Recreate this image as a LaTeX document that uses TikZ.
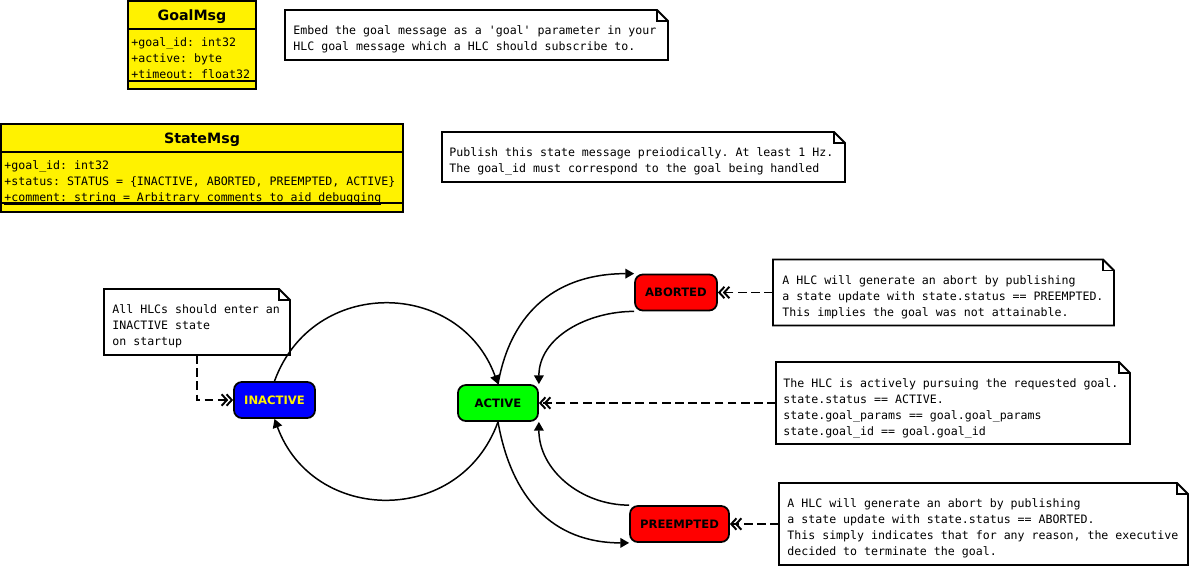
\documentclass[tikz,border=0pt]{standalone}
\usepackage{fontspec}
\setmainfont{DejaVu Sans}
\setmonofont{DejaVu Sans Mono}
\usetikzlibrary{arrows.meta, positioning}

\newcommand{\upx}{0.02cm}
\newcommand{\monotext}{\fontsize{6.6}{9.1}\selectfont\ttfamily}

\begin{document}
\begin{tikzpicture}[x=0.02cm, y=-0.02cm,
    classhead/.style={draw, fill=yellow, line width=1.1pt, outer sep=0pt, inner sep=0pt, text depth=0pt, font=\fontsize{8.1}{10}\selectfont\bfseries},
    classpart/.style={draw, fill=yellow, line width=1.1pt, outer sep=0pt, inner sep=0pt},
    monobox/.style={anchor=north west, inner sep=0pt, align=left, font=\monotext},
    notebox/.style={rectangle, anchor=north west, inner sep=0pt, outer sep=0pt},
    noteline/.style={line width=1.1pt, line join=miter},
    statebox/.style={draw, rounded corners=4.5pt, line width=1pt, minimum height=36*\upx, inner sep=0pt, font=\fontsize{6.6}{8}\selectfont\bfseries},
    trans/.style={line width=0.85pt, -{Triangle[length=5pt,width=5.5pt]}},
    dep/.style={line width=1.1pt, dash pattern=on 5pt off 2.5pt, -{Straight Barb[length=3pt,width=6.5pt,sep=-1.5pt]Straight Barb[length=3pt,width=6.5pt]}}]
    \useasboundingbox (0,0) rectangle (1192,569);

    % message classes
    \node[classhead, minimum width=128*\upx, minimum height=28*\upx] (goalhead) at (192,15) {GoalMsg};
    \node[classpart, minimum width=128*\upx, minimum height=52*\upx, below=0pt of goalhead] (goalattr) {};
    \node[classpart, minimum width=128*\upx, minimum height=8*\upx, below=0pt of goalattr] (goalfoot) {};
    \node[monobox] (goaltxt) at ([xshift=3*\upx, yshift=-8.4*\upx]goalattr.north west)
        {+goal\_id: int32\\+active: byte\\\underline{\smash{+timeout: float32}}};

    \node[classhead, minimum width=402*\upx, minimum height=28*\upx] (statehead) at (202,138) {StateMsg};
    \node[classpart, minimum width=402*\upx, minimum height=51*\upx, below=0pt of statehead] (stateattr) {};
    \node[classpart, minimum width=402*\upx, minimum height=9*\upx, below=0pt of stateattr] (statefoot) {};
    \node[monobox] (statetxt) at ([xshift=3*\upx, yshift=-8.4*\upx]stateattr.north west)
        {+goal\_id: int32\\+status: STATUS = \{INACTIVE, ABORTED, PREEMPTED, ACTIVE\}\\\underline{\smash{+comment: string = Arbitrary comments to aid debugging}}};

    % notes
    \node[notebox, minimum width=383*\upx, minimum height=50*\upx] (goalnote) at (285,10) {};
    \node[notebox, minimum width=403*\upx, minimum height=50*\upx] (statenote) at (442,132) {};
    \node[notebox, minimum width=186*\upx, minimum height=66*\upx] (inote) at (104,289) {};
    \node[notebox, minimum width=341*\upx, minimum height=66*\upx] (anote) at (773,259.5) {};
    \node[notebox, minimum width=354*\upx, minimum height=82*\upx] (actnote) at (776,362) {};
    \node[notebox, minimum width=409*\upx, minimum height=82*\upx] (pnote) at (779,483) {};

    \node[monobox] (goalnotetxt) at ([xshift=8*\upx, yshift=-15*\upx]goalnote.north west)
        {Embed the goal message as a 'goal' parameter in your\\HLC goal message which a HLC should subscribe to.};
    \node[monobox] (statenotetxt) at ([xshift=7*\upx, yshift=-15*\upx]statenote.north west)
        {Publish this state message preiodically. At least 1 Hz.\\The goal\_id must correspond to the goal being handled};
    \node[monobox] (inotetxt) at ([xshift=8*\upx, yshift=-15*\upx]inote.north west)
        {All HLCs should enter an\\INACTIVE state\\on startup};
    \node[monobox] (anotetxt) at ([xshift=9*\upx, yshift=-15.5*\upx]anote.north west)
        {A HLC will generate an abort by publishing\\a state update with state.status == PREEMPTED.\\This implies the goal was not attainable.};
    \node[monobox] (actnotetxt) at ([xshift=7*\upx, yshift=-16*\upx]actnote.north west)
        {The HLC is actively pursuing the requested goal.\\state.status == ACTIVE.\\state.goal\_params == goal.goal\_params\\state.goal\_id == goal.goal\_id};
    \node[monobox] (pnotetxt) at ([xshift=8*\upx, yshift=-15*\upx]pnote.north west)
        {A HLC will generate an abort by publishing\\a state update with state.status == ABORTED.\\This simply indicates that for any reason, the executive\\decided to terminate the goal.};

    \foreach \n in {goalnote, statenote, inote, anote, actnote, pnote} {
        \draw[noteline] (\n.north west) -- ([xshift=-11*\upx]\n.north east) -- ([yshift=-11*\upx]\n.north east)
            -- (\n.south east) -- (\n.south west) -- cycle;
        \draw[line width=0.6pt] ([xshift=-11*\upx]\n.north east) |- ([yshift=-11*\upx]\n.north east);
    }

    % states
    \node[statebox, fill=blue, text=yellow, minimum width=81*\upx] (inactive) at (274.5,400) {INACTIVE};
    \node[statebox, fill=green, minimum width=80*\upx] (active) at (498,403) {ACTIVE};
    \node[statebox, fill=red, minimum width=82*\upx] (aborted) at (676,292.5) {ABORTED};
    \node[statebox, fill=red, minimum width=99*\upx] (preempted) at (679.5,524) {PREEMPTED};

    \draw[trans] (inactive.north) to[out=70, in=110, looseness=1.28] (active.north);
    \draw[trans] (active.south) to[out=-110, in=-70, looseness=1.28] (inactive.south);
    \draw[trans] (active.north) to[out=80, in=180, looseness=1.1] (aborted.north west);
    \draw[trans] (aborted.south west) to[out=180, in=90] (active.north east);
    \draw[trans] (active.south) to[out=-80, in=180, looseness=1.1] (preempted.south west);
    \draw[trans] (preempted.north west) to[out=180, in=-90] (active.south east);

    \draw[dep] (inote.south) |- (inactive.west);
    \draw[dep] (anote.west) -- (aborted.east);
    \draw[dep] (actnote.west) -- (active.east);
    \draw[dep] (pnote.west) -- (preempted.east);
\end{tikzpicture}
\end{document}
